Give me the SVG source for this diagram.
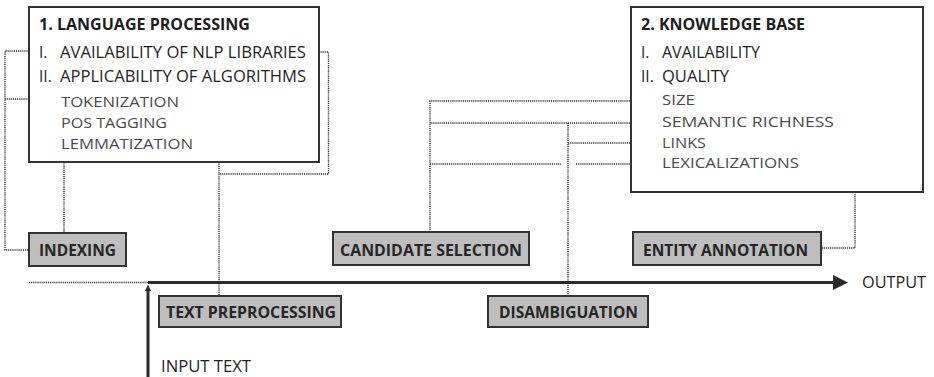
<svg xmlns="http://www.w3.org/2000/svg" width="934" height="377" viewBox="0 0 934 377">
<defs>
<style>
text{font-family:"Open Sans","Noto Sans","Liberation Sans",sans-serif;}
.t{font-size:15.5px;fill:#1e1e1e;}
.h{font-size:15.5px;font-weight:bold;fill:#1e1e1e;}
.g{font-size:14.5px;fill:#4a4a4a;}
.n{font-size:16px;font-weight:bold;fill:#262626;}
.box{fill:#fff;stroke:#333;stroke-width:2;}
.nb{fill:#bebebe;stroke:#333;stroke-width:2;}
.d{fill:none;stroke:#333;stroke-width:1.4;stroke-dasharray:1.2 0.9;}
.s{fill:none;stroke:#2a2a2a;stroke-width:3;}
</style>
<marker id="ah" viewBox="0 0 10 10" refX="0" refY="5" markerWidth="5" markerHeight="5.6" orient="auto" markerUnits="strokeWidth"><path d="M0,0L10,5L0,10z" fill="#2a2a2a"/></marker>
<marker id="ah2" viewBox="0 0 10 10" refX="2" refY="5" markerWidth="2.2" markerHeight="2.6" orient="auto" markerUnits="strokeWidth"><path d="M0,0L10,5L0,10z" fill="#2a2a2a"/></marker>
</defs>

<g id="connectors">
<!-- main pipeline -->
<path class="d" d="M29,282.5H148"/>
<path class="s" d="M148,282.5H833" marker-end="url(#ah)"/>
<path class="s" d="M148,377V290" marker-end="url(#ah2)"/>
<!-- left: indexing -->
<path class="d" d="M36,51H5V250H29"/>
<path class="d" d="M54,99H5"/>
<path class="d" d="M64,155V233"/>
<!-- text preprocessing -->
<path class="d" d="M185,101H219V296"/>
<path class="d" d="M185,124H219"/>
<path class="d" d="M203,144H219"/>
<path class="d" d="M310,52H328.5V174H219"/>
<!-- candidate selection -->
<path class="d" d="M655,101H430V232"/>
<path class="d" d="M655,123H430"/>
<path class="d" d="M430,164H561"/>
<path class="d" d="M576,164H655"/>
<!-- disambiguation -->
<path class="d" d="M568,123V296"/>
<path class="d" d="M568,143H655"/>
<!-- entity annotation -->
<path class="d" d="M842,123H855V248H821"/>
</g>

<g id="language-processing">
<rect class="box" x="29" y="7" width="290" height="155"/>
<text class="h" x="39" y="30" textLength="211" lengthAdjust="spacingAndGlyphs">1.  LANGUAGE PROCESSING</text>
<text class="t" x="39" y="58">I.</text>
<text class="t" x="60" y="58" textLength="246" lengthAdjust="spacingAndGlyphs">AVAILABILITY OF NLP LIBRARIES</text>
<text class="t" x="39" y="82">II.</text>
<text class="t" x="60" y="82" textLength="246" lengthAdjust="spacingAndGlyphs">APPLICABILITY OF ALGORITHMS</text>
<text class="g" x="61" y="107" textLength="118" lengthAdjust="spacingAndGlyphs">TOKENIZATION</text>
<text class="g" x="61" y="128" textLength="106" lengthAdjust="spacingAndGlyphs">POS TAGGING</text>
<text class="g" x="61" y="149" textLength="132" lengthAdjust="spacingAndGlyphs">LEMMATIZATION</text>
</g>

<g id="knowledge-base">
<rect class="box" x="631" y="7" width="292" height="185"/>
<text class="h" x="641" y="30" textLength="164" lengthAdjust="spacingAndGlyphs">2.  KNOWLEDGE BASE</text>
<text class="t" x="641" y="58">I.</text>
<text class="t" x="662" y="58" textLength="98" lengthAdjust="spacingAndGlyphs">AVAILABILITY</text>
<text class="t" x="641" y="82">II.</text>
<text class="t" x="662" y="82" textLength="67" lengthAdjust="spacingAndGlyphs">QUALITY</text>
<text class="g" x="662" y="105" textLength="33" lengthAdjust="spacingAndGlyphs">SIZE</text>
<text class="g" x="662" y="127" textLength="172" lengthAdjust="spacingAndGlyphs">SEMANTIC RICHNESS</text>
<text class="g" x="662" y="148" textLength="44" lengthAdjust="spacingAndGlyphs">LINKS</text>
<text class="g" x="662" y="168" textLength="137" lengthAdjust="spacingAndGlyphs">LEXICALIZATIONS</text>
</g>

<g id="indexing">
<rect class="nb" x="29" y="233" width="97" height="33"/>
<text class="n" x="39" y="256" textLength="77" lengthAdjust="spacingAndGlyphs">INDEXING</text>
</g>

<g id="text-preprocessing">
<rect class="nb" x="159" y="296" width="182" height="31"/>
<text class="n" x="166" y="318" textLength="170" lengthAdjust="spacingAndGlyphs">TEXT PREPROCESSING</text>
</g>

<g id="candidate-selection">
<rect class="nb" x="333" y="232" width="196" height="33"/>
<text class="n" x="340" y="256" textLength="182" lengthAdjust="spacingAndGlyphs">CANDIDATE SELECTION</text>
</g>

<g id="disambiguation">
<rect class="nb" x="488" y="296" width="160" height="31"/>
<text class="n" x="499" y="318" textLength="139" lengthAdjust="spacingAndGlyphs">DISAMBIGUATION</text>
</g>

<g id="entity-annotation">
<rect class="nb" x="633" y="232" width="188" height="33"/>
<text class="n" x="643" y="256" textLength="165" lengthAdjust="spacingAndGlyphs">ENTITY ANNOTATION</text>
</g>

<g id="output">
<text class="t" x="862" y="288" textLength="64" lengthAdjust="spacingAndGlyphs">OUTPUT</text>
</g>

<g id="input">
<text class="t" x="161" y="372" textLength="90" lengthAdjust="spacingAndGlyphs">INPUT TEXT</text>
</g>
</svg>
